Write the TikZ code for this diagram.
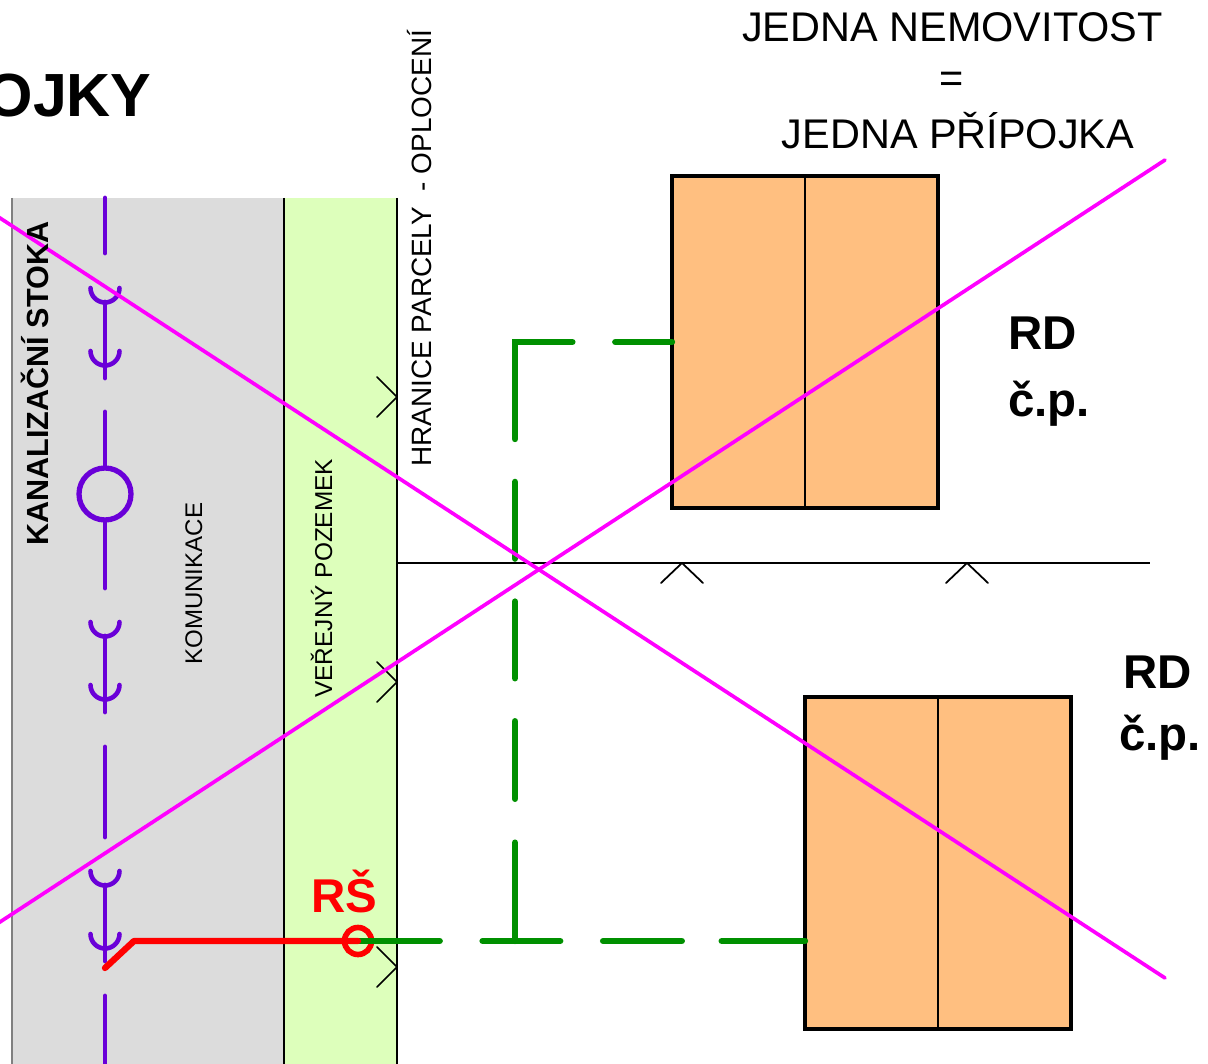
\documentclass[tikz,border=0pt]{standalone}
\usepackage{fontspec}
\setmainfont{Liberation Sans}
\definecolor{roadgray}{HTML}{DCDCDC}
\definecolor{plotgreen}{HTML}{DDFFBB}
\definecolor{roofcolor}{HTML}{FFBF80}
\definecolor{sewerviolet}{HTML}{6A00D8}
\definecolor{linkgreen}{HTML}{009000}
\definecolor{crossmagenta}{HTML}{FF00FF}
\begin{document}
\begin{tikzpicture}[x=0.02cm, y=-0.02cm,
    house/.style ={rectangle, draw, line width=2.3pt, fill=roofcolor, minimum width=5.32cm, minimum height=6.64cm, outer sep=0pt},
    caption/.style ={inner sep=0pt, font=\fontsize{23.6}{28}\selectfont},
    bigbold/.style ={inner sep=0pt, font=\fontsize{27}{32}\selectfont\bfseries},
    sidetext/.style ={inner sep=0pt, rotate=90, anchor=base west},
    sewer/.style ={sewerviolet, line width=2.8pt, line cap=round},
    socket/.style ={sewerviolet, line width=2.6pt, line cap=round},
    link/.style ={linkgreen, line width=3.6pt, line cap=round},
    boundary/.style ={line width=1.1pt},
    cross/.style ={crossmagenta, line width=2.1pt, line cap=round}]
   \useasboundingbox (0,0) rectangle (1208,1064);
   \clip (0,0) rectangle (1208,1064);

   \fill[roadgray] (12,198) rectangle (284,1070);
   \fill[plotgreen] (284,198) rectangle (397,1070);
   \draw[line width=1.1pt, gray] (12,198) -- (12,1070);
   \draw[boundary] (284,198) -- (284,1070);
   \draw[boundary] (397,198) -- (397,1070);
   \draw[boundary] (397,563) -- (1150,563);

   \foreach \y in {397,682,967}
     \draw[line width=1pt, line cap=round, line join=round] (377,\y-20) -- (397,\y) -- (377,\y+20);
   \foreach \x in {682,967}
     \draw[line width=1pt, line cap=round, line join=round] (\x-21,583) -- (\x,563) -- (\x+21,583);

   \node[house] (H1) at (805,342) {};
   \node[house] (H2) at (938,863) {};
   \draw[line width=0.9pt] (H1.north) to (H1.south);
   \draw[line width=0.9pt] (H2.north) to (H2.south);

   \node[circle, draw=sewerviolet, line width=3pt, minimum size=1.04cm, inner sep=0pt] (MH) at (105,494) {};
   \node[circle, draw=red, line width=3.2pt, minimum size=0.54cm, inner sep=0pt] (RS) at (358,941) {};

   \coordinate (A) at (105,198);
   \coordinate (B) at (105,253);
   \coordinate (C) at (105,412);
   \coordinate (D) at (105,588);
   \coordinate (E) at (105,747);
   \coordinate (F) at (105,837);
   \coordinate (G) at (105,996);
   \coordinate (I) at (105,1070);
   \draw[sewer] (A) to (B);
   \draw[sewer] (C) to (MH.north);
   \draw[sewer] (MH.south) to (D);
   \draw[sewer] (E) to (F);
   \draw[sewer] (G) to (I);
   \foreach \y in {288,622,871} {
     \draw[sewer] (105,\y+14) -- (105,\y+90);
     \draw[socket] (90.5,\y) arc[start angle=180, end angle=0, radius=14.5];
     \draw[socket] (90.5,\y+63) arc[start angle=180, end angle=0, radius=14.5];
   }

   \coordinate (BEND) at (515,342);
   \coordinate (TEE) at (515,941);
   \coordinate (JOIN) at (105,968);
   \coordinate (KNEE) at (134,941);
   \draw[link, dash pattern=on 32.3pt off 24.4pt on 87.9pt off 24.4pt on 43.7pt off 24.4pt on 43.7pt off 24.4pt on 44.2pt off 24.9pt on 60pt] (H1.west) -- (BEND) -- (TEE);
   \draw[link, dash pattern=on 46.5pt off 24.4pt on 44.2pt off 24.4pt on 44.8pt off 22.7pt on 60pt] (RS.center) -- (H2.west |- RS.center);
   \draw[red, line width=3.6pt, line cap=round, line join=round] (JOIN) -- (KNEE) -- (RS.center);

   \coordinate (X1a) at (-10,211.5);
   \coordinate (X1b) at (1165,978);
   \coordinate (X2a) at (-10,928.5);
   \coordinate (X2b) at (1165,160);
   \draw[cross] (X1a) -- (X1b);
   \draw[cross] (X2a) -- (X2b);

   \node[inner sep=0pt, anchor=base east, font=\fontsize{34.7}{40}\selectfont\bfseries] (TITLE) at (152,117) {OJKY};
   \node[caption, anchor=base] (T1) at (952.5,42) {JEDNA NEMOVITOST};
   \node[caption, anchor=base] (T2) at (952,93) {=};
   \node[caption, anchor=base] (T3) at (958,149) {JEDNA PŘÍPOJKA};
   \node[bigbold, anchor=base west] (RD1) at (1008,350) {RD};
   \node[bigbold, anchor=base west] (CP1) at (1008,417) {č.p.};
   \node[bigbold, anchor=base west] (RD2) at (1123,688) {RD};
   \node[bigbold, anchor=base west] (CP2) at (1119,750) {č.p.};
   \node[bigbold, anchor=base west, red] (RSLABEL) at (311,912) {RŠ};
   \node[sidetext, font=\fontsize{17.4}{20}\selectfont\bfseries] (STOKA) at (49,546) {KANALIZAČNÍ STOKA};
   \node[sidetext, font=\fontsize{13.7}{16}\selectfont] (ROAD) at (202,665) {KOMUNIKACE};
   \node[sidetext, font=\fontsize{13.9}{16}\selectfont] (PUBLIC) at (332,698) {VEŘEJNÝ POZEMEK};
   \node[sidetext, font=\fontsize{15.9}{18}\selectfont] (FENCE) at (431,467) {HRANICE PARCELY \ - OPLOCENÍ};
 \end{tikzpicture}
\end{document}
